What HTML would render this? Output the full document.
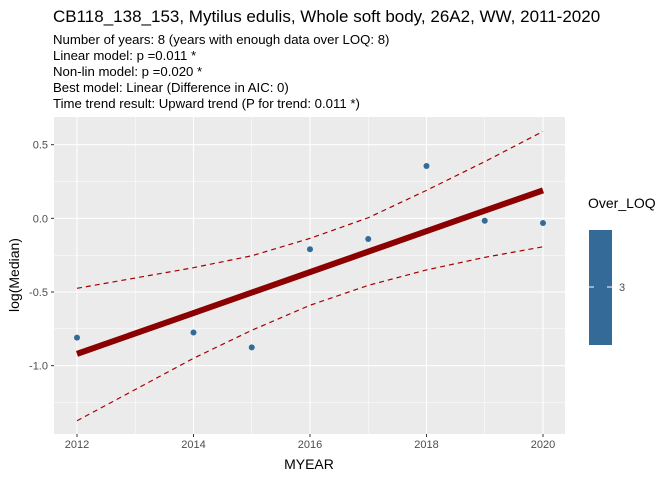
<!DOCTYPE html>
<html><head><meta charset="utf-8"><style>
body{margin:0;background:#fff;font-family:"Liberation Sans",sans-serif;}
</style></head><body>
<svg width="672" height="480" xmlns="http://www.w3.org/2000/svg" font-family="Liberation Sans, sans-serif">
<text x="53" y="22" font-size="17" fill="#000">CB118_138_153, Mytilus edulis, Whole soft body, 26A2, WW, 2011-2020</text>
<g font-size="13.2" fill="#000">
<text x="53" y="44">Number of years: 8 (years with enough data over LOQ: 8)</text>
<text x="53" y="60">Linear model: p =0.011 *</text>
<text x="53" y="76">Non-lin model: p =0.020 *</text>
<text x="53" y="92">Best model: Linear (Difference in AIC: 0)</text>
<text x="53" y="108">Time trend result: Upward trend (P for trend: 0.011 *)</text>
</g>
<rect x="54" y="117" width="511" height="317" fill="#ebebeb"/>
<g id="grid"></g>
<g id="marks"></g>
<g id="axes" font-size="11" fill="#4d4d4d"></g>
<text x="309" y="469" text-anchor="middle" font-size="14">MYEAR</text>
<text transform="translate(19,275) rotate(-90)" text-anchor="middle" font-size="14">log(Median)</text>
<text x="588" y="208" font-size="14">Over_LOQ</text>
<rect x="589" y="230" width="23" height="115" fill="#336a98"/>
<line x1="589" y1="287" x2="594" y2="287" stroke="#fff" stroke-width="1"/>
<line x1="607" y1="287" x2="612" y2="287" stroke="#fff" stroke-width="1"/>
<text x="619" y="291" font-size="11" fill="#4d4d4d">3</text>
</svg>
<script>
const years=[2012,2014,2015,2016,2017,2018,2019,2020];
const values=[-0.81,-0.775,-0.876,-0.21,-0.14,0.355,-0.016,-0.032];
const ciYears=[2012,2014,2015,2016,2017,2018,2019,2020];
const fitValues=[-0.92,-0.643,-0.504,-0.365,-0.226,-0.087,0.052,0.19];
const upperValues=[-0.475,-0.335,-0.254,-0.136,0.004,0.19,0.385,0.59];
const lowerValues=[-1.374,-0.95,-0.76,-0.59,-0.455,-0.35,-0.265,-0.193];
const xTicks=[2012,2014,2016,2018,2020];
const yTicks=[0.5,0,-0.5,-1];
const yTickLabels=["0.5","0.0","-0.5","-1.0"];
const L=54,R=565,T=117,B=434,x0=2011.605,x1=2020.378,y0=-1.464,y1=0.688;
const X=v=>L+(v-x0)/(x1-x0)*(R-L);
const Y=v=>B-(v-y0)/(y1-y0)*(B-T);
const NS="http://www.w3.org/2000/svg";
function mk(p,tag,a){const e=document.createElementNS(NS,tag);for(const k in a)e.setAttribute(k,a[k]);p.appendChild(e);return e;}
const grid=document.getElementById('grid'),marks=document.getElementById('marks'),axes=document.getElementById('axes');
for(let i=0;i<xTicks.length;i++){
 if(i<xTicks.length-1){const m=(xTicks[i]+xTicks[i+1])/2;const g=mk(grid,'line',{x1:X(m),x2:X(m),y1:T,y2:B,stroke:'#fff','stroke-width':0.5});}
 const g=mk(grid,'line',{x1:X(xTicks[i]),x2:X(xTicks[i]),y1:T,y2:B,stroke:'#fff','stroke-width':1.1});
 
 mk(axes,'line',{x1:X(xTicks[i]),x2:X(xTicks[i]),y1:B,y2:B+3,stroke:'#333'});
 const t=mk(axes,'text',{x:X(xTicks[i]),y:B+14,'text-anchor':'middle'});t.textContent=xTicks[i];
 
}
for(let i=0;i<yTicks.length;i++){
 const m=yTicks[i]-0.25;
 const gm=mk(grid,'line',{x1:L,x2:R,y1:Y(m),y2:Y(m),stroke:'#fff','stroke-width':0.5});
 
 const g=mk(grid,'line',{x1:L,x2:R,y1:Y(yTicks[i]),y2:Y(yTicks[i]),stroke:'#fff','stroke-width':1.1});
 
 mk(axes,'line',{x1:L-3,x2:L,y1:Y(yTicks[i]),y2:Y(yTicks[i]),stroke:'#333'});
 const t=mk(axes,'text',{x:L-6,y:Y(yTicks[i])+4,'text-anchor':'end'});t.textContent=yTickLabels[i];
 
}
const pts=a=>ciYears.map((y,i)=>X(y)+','+Y(a[i])).join(' ');
const up=mk(marks,'polyline',{points:pts(upperValues),fill:'none',stroke:'#a50000','stroke-width':1.2,'stroke-dasharray':'5,4'});

const lo=mk(marks,'polyline',{points:pts(lowerValues),fill:'none',stroke:'#a50000','stroke-width':1.2,'stroke-dasharray':'5,4'});

const fit=mk(marks,'polyline',{points:pts(fitValues),fill:'none',stroke:'#8b0000','stroke-width':6});

years.forEach((y,i)=>{const c=mk(marks,'circle',{cx:X(y),cy:Y(values[i]),r:3,fill:'#336a98'});
 });
</script>
</body></html>
